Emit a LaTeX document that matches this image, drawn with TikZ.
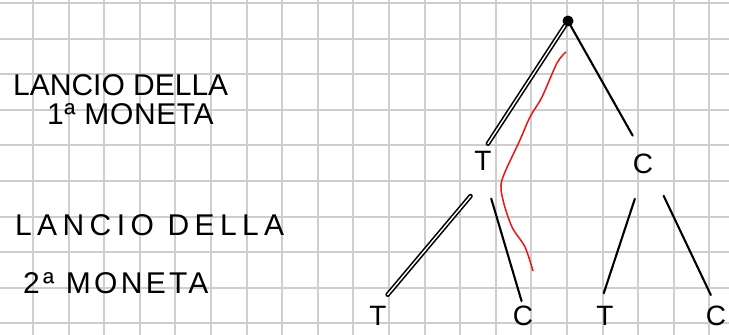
\documentclass[tikz,border=0pt]{standalone}
\usepackage{fontspec}
\setmainfont{Liberation Sans}
\newfontfamily\hand{Liberation Sans}
\definecolor{gridgray}{RGB}{206,206,206}
\definecolor{pathred}{RGB}{235,20,20}
\tikzset{
  gridln/.style={gridgray, line width=2pt},
  lbl/.style={anchor=west, inner sep=0pt,
              font=\hand\fontsize{30}{32}\selectfont\addfontfeature{LetterSpace=#1}},
  coin/.style={inner sep=0pt, font=\fontsize{28}{30}\selectfont},
  branch/.style={line width=2.1pt, line cap=round},
  retraced/.style={double, double distance=1.4pt, line width=1.6pt}
}

\begin{document}
\begin{tikzpicture}[x=1pt, y=-1pt]
  \useasboundingbox (0,0) rectangle (729,335);
  \clip (0,0) rectangle (729,335);
  % squared paper
  \foreach \k in {0,...,21} \draw[gridln] (-2.6+35.6*\k,0) -- (-2.6+35.6*\k,335);
  \foreach \k in {0,...,9} \draw[gridln] (0,3+35.6*\k) -- (729,3+35.6*\k);

  % labels on the left
  \node[lbl=0] (lab1) at (13,85) {LANCIO DELLA};
  \node[lbl=2] (lab1b) at (47,114) {1ª MONETA};
  \node[lbl=18] (lab2) at (15,225) {LANCIO DELLA};
  \node[lbl=11] (lab2b) at (23,283) {2ª MONETA};

  % tree
  \node[circle, fill, inner sep=0pt, minimum size=11pt] (root) at (568,21) {};
  \node[coin] (t1) at (483,161) {T};
  \node[coin] (c1) at (643,164) {C};
  \node[coin] (tt) at (378,316) {T};
  \node[coin] (tc) at (523,316) {C};
  \node[coin] (ct) at (605,316) {T};
  \node[coin] (cc) at (716,316) {C};

  \draw[branch, retraced, shorten >=9pt] (root) -- (t1.north);
  \draw[branch, shorten >=21pt] (root) -- (c1.north);
  \draw[branch, retraced, shorten <=33pt, shorten >=15pt] (t1.south east) -- (tt.north);
  \draw[branch, shorten <=29pt, shorten >=5pt] (t1.south) -- (tc.north);
  \draw[branch, shorten <=26pt, shorten >=24pt] (c1.south) -- (ct.west);
  \draw[branch, shorten <=24pt, shorten >=12pt] (c1.south east) -- (cc.north);

  % chosen path
  \draw[pathred, line width=1.5pt] plot[smooth] coordinates
    {(566,52) (557,63) (542,97) (530,117) (520,140) (502,180) (503,200) (512,227) (525,247) (533,271)};
\end{tikzpicture}
\end{document}
